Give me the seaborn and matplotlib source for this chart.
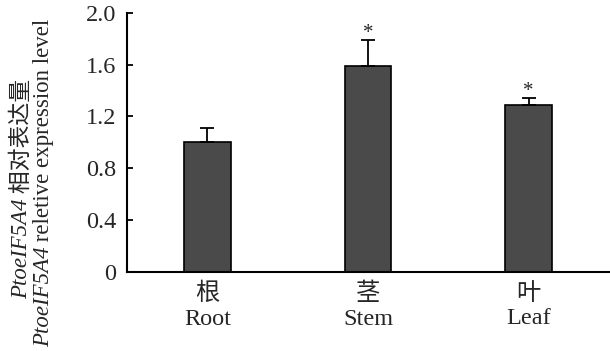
import matplotlib
matplotlib.use("Agg")
import matplotlib.pyplot as plt
import seaborn as sns
import numpy as np
import pandas as pd

# Expression data
tissues_cn = ["根", "茎", "叶"]
tissues_en = ["Root", "Stem", "Leaf"]
expression = [1.00, 1.59, 1.29]
sd = [0.11, 0.20, 0.05]
significant = [False, True, True]

sns.set_theme(style="white")
SERIF = "Liberation Serif"
CJK = "Noto Sans CJK SC"
plt.rcParams["font.family"] = [SERIF, CJK]
FS = 17.5
FS_LABEL = 16.5

df = pd.DataFrame({"tissue": tissues_en, "expr": expression})

fig = plt.figure(figsize=(6.10, 3.51), dpi=100)
ax = fig.add_axes([127 / 610, 1 - 271.5 / 351, 482 / 610, (271.5 - 13) / 351])

sns.barplot(data=df, x="tissue", y="expr", ax=ax, color="#4a4a4a",
            saturation=1, width=0.29, edgecolor="black", linewidth=1.2,
            errorbar=None)

xpos = np.arange(len(expression))
ax.errorbar(xpos, expression, yerr=[np.zeros(len(sd)), sd], fmt="none",
            ecolor="black", elinewidth=1.3, capsize=5, capthick=1.3)

for x, v, s, sig in zip(xpos, expression, sd, significant):
    if sig:
        ax.text(x, v + s - 0.02, "*", ha="center", va="bottom",
                fontsize=15, family=SERIF)

ax.set_xlim(-0.5, 2.5)
ax.set_ylim(0, 2.0)
ax.set_yticks([0, 0.4, 0.8, 1.2, 1.6, 2.0])
ax.set_yticklabels(["0", "0.4", "0.8", "1.2", "1.6", "2.0"], fontsize=FS,
                   family=SERIF)
ax.set_xticks(xpos)
ax.set_xticklabels([f"{c}\n{e}" for c, e in zip(tissues_cn, tissues_en)],
                   fontsize=FS, linespacing=1.22, fontweight="light")
ax.set_xticks([0.5, 1.5, 2.5], minor=True)
ax.tick_params(axis="x", which="major", length=0, pad=8)
ax.tick_params(axis="x", which="minor", direction="in", length=5, width=1.3,
               color="black")
ax.tick_params(axis="y", direction="in", length=4, width=1.3, color="black",
               pad=8, left=True)
ax.set_xlabel("")
ax.set_ylabel("")

for side in ["top", "right"]:
    ax.spines[side].set_visible(False)
for side in ["left", "bottom"]:
    ax.spines[side].set_color("black")
    ax.spines[side].set_linewidth(1.5)

# Two-line rotated y label built from italic gene name + plain text
fig.canvas.draw()
renderer = fig.canvas.get_renderer()
H = 351


def rotated_line(x_px, center_px_from_top, pieces):
    texts = []
    for s, style, fam in pieces:
        t = fig.text(0, 0, s, rotation=90, fontsize=FS_LABEL, fontstyle=style,
                     family=fam, fontweight="light", ha="center", va="bottom",
                     transform=None)
        texts.append(t)
    heights = [t.get_window_extent(renderer).height for t in texts]
    total = sum(heights)
    y = (H - center_px_from_top) - total / 2
    for t, h in zip(texts, heights):
        t.set_position((x_px, y))
        y += h


rotated_line(22, 189, [("PtoeIF5A4", "italic", SERIF),
                       (" 相对表达量", "normal", [SERIF, CJK])])
rotated_line(44, 183, [("PtoeIF5A4", "italic", SERIF),
                       (" reletive expression level", "normal", SERIF)])

fig.savefig("out.png", dpi=100)
